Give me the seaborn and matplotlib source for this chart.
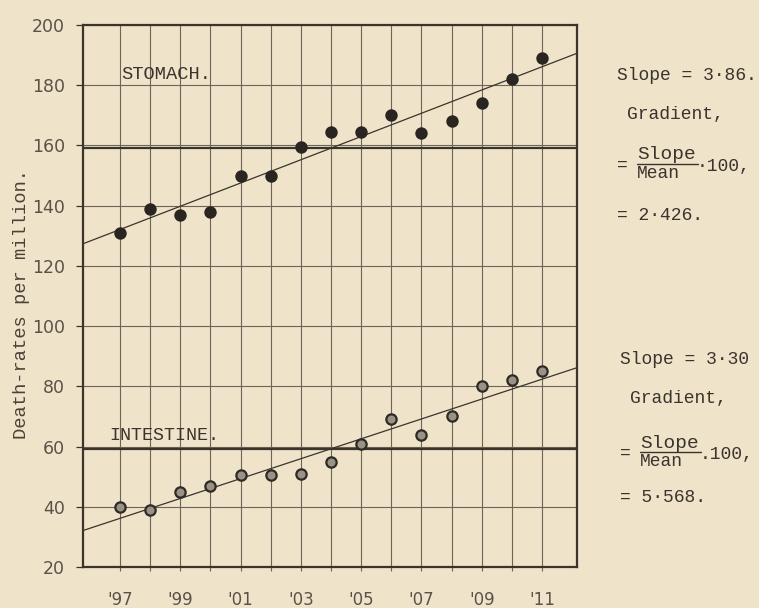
import numpy as np
import pandas as pd
import matplotlib
matplotlib.use("Agg")
import matplotlib.pyplot as plt
from matplotlib.lines import Line2D
import seaborn as sns

# ---------------- data ----------------
years = list(range(1897, 1912))
stomach = [131, 139, 137, 138, 150, 150, 159.5, 164.5, 164.5, 170, 164, 168, 174, 182, 189]
intestine = [40, 39, 45, 47, 50.5, 50.5, 51, 55, 61, 69, 64, 70, 80, 82, 85]
series_names = ["STOMACH.", "INTESTINE."]
slopes = [3.86, 3.30]
gradients = [2.426, 5.568]
slope_labels = ["Slope = 3·86.", "Slope = 3·30"]
grad_labels = ["= 2·426.", "= 5·568."]
hundred_labels = ["·100,", ".100,"]
xtick_years = [1897, 1899, 1901, 1903, 1905, 1907, 1909, 1911]
xtick_labels = ["'97", "'99", "'01", "'03", "'05", "'07", "'09", "'11"]
ytick_values = [20, 40, 60, 80, 100, 120, 140, 160, 180, 200]
ylabel = "Death-rates per million."

# ---------------- style ----------------
paper = "#efe3ca"
ink = "#3b342d"
grid_c = "#6e6556"
sns.set_style("ticks", rc={"axes.facecolor": paper, "figure.facecolor": paper})
plt.rcParams["font.family"] = ["DejaVu Sans"]
mono = ["Liberation Mono", "DejaVu Sans Mono"]

W, H = 759, 608
fig = plt.figure(figsize=(W / 100, H / 100), dpi=100)
ax = fig.add_axes([83 / W, 1 - 567 / H, (577 - 83) / W, (567 - 25) / H])
ax.set_facecolor(paper)

xlim = (1895.77, 1912.16)
ax.set_xlim(*xlim)
ax.set_ylim(20, 200)

# grid
ax.set_xticks(xtick_years)
ax.set_xticks(years, minor=True)
ax.set_yticks(ytick_values)
ax.set_xticklabels(xtick_labels)
ax.grid(True, which="both", axis="x", color=grid_c, linewidth=0.8)
ax.grid(True, which="major", axis="y", color=grid_c, linewidth=0.8)
ax.set_axisbelow(True)

for s in ax.spines.values():
    s.set_visible(True)
    s.set_linewidth(1.6)
    s.set_color(ink)

ax.tick_params(axis="y", length=5, width=0.9, color=ink, pad=8,
               labelsize=12.5, labelcolor="#5a5248")
ax.tick_params(axis="x", which="both", length=3, width=0.8, color=grid_c, pad=14,
               labelsize=12, labelcolor="#5a5248")
ax.tick_params(axis="x", which="minor", length=3)

df = pd.DataFrame({
    "year": years * 2,
    "rate": stomach + intestine,
    "series": [series_names[0]] * len(years) + [series_names[1]] * len(years),
})

means = [g_s / g * 100 for g_s, g in zip(slopes, gradients)]
mid_year = np.mean(years)

for i, name in enumerate(series_names):
    sub = df[df["series"] == name]
    # mean line
    ax.axhline(means[i], color=ink, linewidth=1.6, zorder=2)
    # fitted line from slope and mean
    xs = np.array(xlim)
    line_df = pd.DataFrame({"year": xs, "rate": means[i] + slopes[i] * (xs - mid_year)})
    sns.lineplot(data=line_df, x="year", y="rate", ax=ax, color=ink,
                 linewidth=0.9, zorder=3)
    if i == 0:
        sns.scatterplot(data=sub, x="year", y="rate", ax=ax, s=60,
                        color="#2a2520", edgecolor="#2a2520", linewidth=1.2, zorder=4)
    else:
        sns.scatterplot(data=sub, x="year", y="rate", ax=ax, s=55,
                        color="#9a9284", edgecolor="#2e2a25", linewidth=1.6, zorder=4)

ax.set_xlabel("")
ax.set_ylabel("")

# series labels
ax.text(1897.05, 183.7, series_names[0], family=mono, fontsize=13.5, color=ink,
        va="center", ha="left")
ax.text(1896.65, 63.8, series_names[1], family=mono, fontsize=13.2, color=ink,
        va="center", ha="left")

# y label
fig.text(22 / W, 1 - 304 / H, ylabel, family=mono, fontsize=13.5, color="#4a4238",
         rotation=90, va="center", ha="center")

# right-hand annotations
def fy(py):
    return 1 - py / H

fs = 13
blocks = [
    dict(slope_y=75, grad_y=115, frac_y=165, res_y=215, x0=617),
    dict(slope_y=360, grad_y=398, frac_y=453, res_y=498, x0=620),
]
for i, b in enumerate(blocks):
    x0 = b["x0"] / W
    fig.text(x0, fy(b["slope_y"]), slope_labels[i], family=mono, fontsize=fs,
             color=ink, va="center", ha="left")
    fig.text((b["x0"] + 10) / W, fy(b["grad_y"]), "Gradient,", family=mono,
             fontsize=fs, color=ink, va="center", ha="left")
    fig.text(x0, fy(b["frac_y"]), "=", family=mono, fontsize=fs, color=ink,
             va="center", ha="left")
    fx = (b["x0"] + 20) / W
    fig.text(fx, fy(b["frac_y"] - 10), "Slope", family=mono, fontsize=14,
             color=ink, va="center", ha="left")
    fig.add_artist(Line2D([fx, fx + 61 / W], [fy(b["frac_y"] - 1)] * 2,
                          color=ink, linewidth=1.0, transform=fig.transFigure))
    fig.text(fx, fy(b["frac_y"] + 9), "Mean", family=mono, fontsize=13,
             color=ink, va="center", ha="left")
    fig.text(fx + 60 / W, fy(b["frac_y"] + 2), hundred_labels[i], family=mono,
             fontsize=fs, color=ink, va="center", ha="left")
    fig.text(x0, fy(b["res_y"]), grad_labels[i], family=mono, fontsize=fs,
             color=ink, va="center", ha="left")

fig.savefig("out.png", dpi=100, facecolor=paper)
